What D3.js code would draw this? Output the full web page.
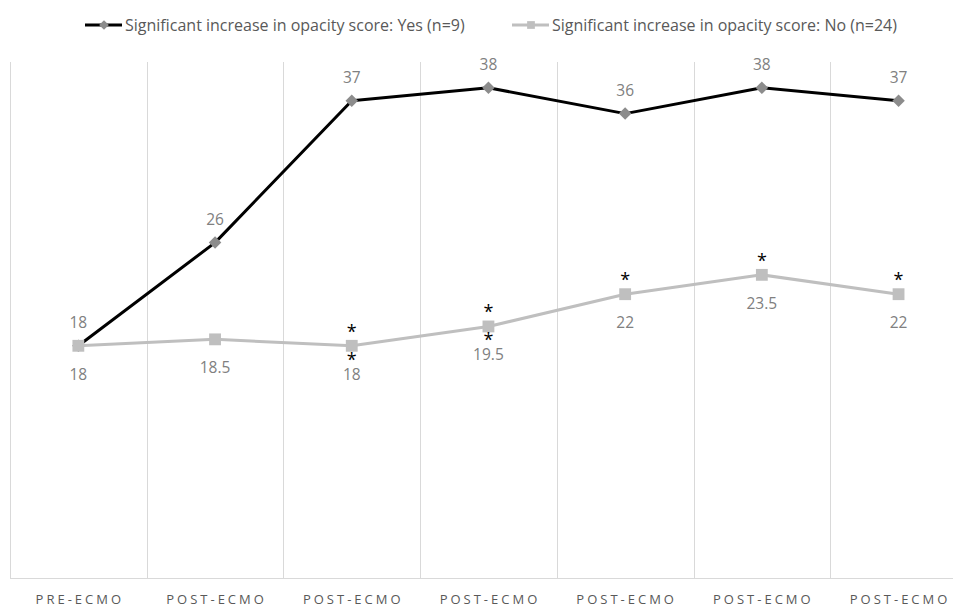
<!DOCTYPE html>
<html>
<head>
<meta charset="utf-8">
<script src="https://cdn.jsdelivr.net/npm/d3@7"></script>
<style>
  body { margin: 0; background: #fff; }
  text { font-family: "Open Sans", sans-serif; }
</style>
</head>
<body>
<svg id="chart" width="953" height="607"></svg>
<script>
// chart data
var categories = ['PRE-ECMO', 'POST-ECMO', 'POST-ECMO', 'POST-ECMO', 'POST-ECMO', 'POST-ECMO', 'POST-ECMO'];
var yesValues = [18, 26, 37, 38, 36, 38, 37];
var noValues = [18, 18.5, 18, 19.5, 22, 23.5, 22];
// asterisks marking significance around each point of the No series
var starsAbove = [false, false, true, true, true, true, true];
var starsBelow = [false, false, true, true, false, false, false];
var seriesNames = ['Significant increase in opacity score: Yes (n=9)', 'Significant increase in opacity score: No (n=24)'];

var svg = d3.select('#chart');
var plotLeft = 10, bandW = 136.7;
var plotTop = 62, plotBottom = 578;

var x = d3.scaleBand()
  .domain(d3.range(categories.length))
  .range([plotLeft, plotLeft + bandW * categories.length]);

var y = d3.scaleLinear().domain([0, 40]).range([plotBottom, plotTop]);

var cx = function (d, i) { return x(i) + x.bandwidth() / 2; };

// vertical gridlines between categories
svg.append('g').selectAll('line')
  .data(d3.range(categories.length))
  .enter().append('line')
  .attr('x1', function (d) { return Math.round(x(d)) + 0.5; })
  .attr('x2', function (d) { return Math.round(x(d)) + 0.5; })
  .attr('y1', plotTop)
  .attr('y2', plotBottom)
  .style('stroke', '#d9d9d9')
  .style('stroke-width', 1);

// base axis line
svg.append('line')
  .attr('x1', plotLeft).attr('x2', 953)
  .attr('y1', plotBottom + 0.5).attr('y2', plotBottom + 0.5)
  .style('stroke', '#d9d9d9')
  .style('stroke-width', 1);

// category labels
svg.append('g').selectAll('text')
  .data(categories)
  .enter().append('text')
  .attr('x', function (d, i) { return cx(d, i) + 1.5; })
  .attr('y', 604)
  .attr('text-anchor', 'middle')
  .style('font-size', '13px')
  .style('letter-spacing', '3px')
  .style('fill', '#595959')
  .text(function (d) { return d; });

var line = d3.line()
  .x(function (d, i) { return cx(d, i); })
  .y(function (d) { return y(d); });

var diamond = d3.symbol().type(d3.symbolDiamond2).size(100);
var square = d3.symbol().type(d3.symbolSquare).size(140);

// Yes series (black line, grey diamonds)
svg.append('path')
  .datum(yesValues)
  .attr('d', line)
  .style('fill', 'none')
  .style('stroke', '#000')
  .style('stroke-width', 3)
  .style('stroke-linejoin', 'round');

svg.append('g').selectAll('path')
  .data(yesValues)
  .enter().append('path')
  .attr('d', diamond)
  .attr('transform', function (d, i) { return 'translate(' + cx(d, i) + ',' + y(d) + ')'; })
  .style('fill', '#8c8c8c');

// No series (grey line, grey squares) drawn on top
svg.append('path')
  .datum(noValues)
  .attr('d', line)
  .style('fill', 'none')
  .style('stroke', '#bfbfbf')
  .style('stroke-width', 3)
  .style('stroke-linejoin', 'round');

svg.append('g').selectAll('path')
  .data(noValues)
  .enter().append('path')
  .attr('d', square)
  .attr('transform', function (d, i) { return 'translate(' + cx(d, i) + ',' + y(d) + ')'; })
  .style('fill', '#bfbfbf');

// data labels
svg.append('g').selectAll('text')
  .data(yesValues)
  .enter().append('text')
  .attr('x', cx)
  .attr('y', function (d) { return y(d) - 18; })
  .attr('text-anchor', 'middle')
  .style('font-size', '15.5px')
  .style('fill', '#808080')
  .text(function (d) { return d; });

svg.append('g').selectAll('text')
  .data(noValues)
  .enter().append('text')
  .attr('x', cx)
  .attr('y', function (d) { return y(d) + 34; })
  .attr('text-anchor', 'middle')
  .style('font-size', '15.5px')
  .style('fill', '#808080')
  .text(function (d) { return d; });

// asterisks (indices of the No points that carry them)
var aboveIdx = d3.range(noValues.length).filter(function (i) { return starsAbove[i]; });
var belowIdx = d3.range(noValues.length).filter(function (i) { return starsBelow[i]; });

svg.append('g').selectAll('text')
  .data(aboveIdx)
  .enter().append('text')
  .attr('x', function (i) { return cx(null, i); })
  .attr('y', function (i) { return y(noValues[i]) - 8; })
  .attr('text-anchor', 'middle')
  .style('font-size', '18px')
  .style('fill', '#000')
  .text('*');

svg.append('g').selectAll('text')
  .data(belowIdx)
  .enter().append('text')
  .attr('x', function (i) { return cx(null, i); })
  .attr('y', function (i) { return y(noValues[i]) + 20; })
  .attr('text-anchor', 'middle')
  .style('font-size', '18px')
  .style('fill', '#000')
  .text('*');

// legend
var legendItems = [
  { x: 85, stroke: '#000', fill: '#8c8c8c', sym: d3.symbol().type(d3.symbolDiamond2).size(60), name: seriesNames[0] },
  { x: 512, stroke: '#bfbfbf', fill: '#bfbfbf', sym: d3.symbol().type(d3.symbolSquare).size(60), name: seriesNames[1] }
];
var lg = svg.append('g').attr('class', 'legend')
  .selectAll('g')
  .data(legendItems)
  .enter().append('g')
  .attr('transform', function (d) { return 'translate(' + d.x + ',25)'; });

lg.append('line')
  .attr('x1', 0).attr('x2', 37)
  .style('stroke', function (d) { return d.stroke; })
  .style('stroke-width', 3);

lg.append('path')
  .attr('d', function (d) { return d.sym(); })
  .attr('transform', 'translate(19,0)')
  .style('fill', function (d) { return d.fill; });

lg.append('text')
  .attr('x', 40)
  .attr('y', 5.5)
  .style('font-size', '16px')
  .style('fill', '#595959')
  .text(function (d) { return d.name; });
</script>
</body>
</html>
